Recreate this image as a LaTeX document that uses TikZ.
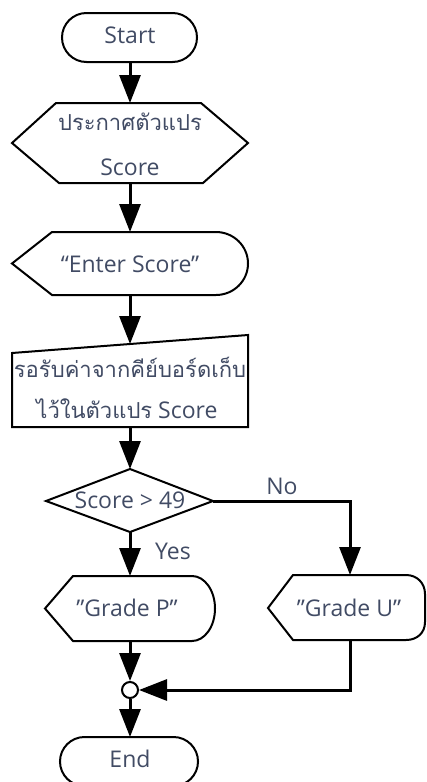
\documentclass[tikz,border=0pt]{standalone}
\usepackage{fontspec}
\setmainfont{Open Sans}
\newfontfamily\thaifont[Script=Thai]{Loma}
\usetikzlibrary{arrows.meta}
\definecolor{txt}{RGB}{65,75,100}
\begin{document}
\begin{tikzpicture}[x=1pt,y=-1pt,
  shp/.style={draw=black,line width=2pt,line join=miter},
  conn/.style={draw=black,line width=3pt},
  arr/.style={conn,-{Triangle[width=21pt,length=28pt]}},
  lbl/.style={anchor=base,inner sep=0pt,text=txt,font=\fontsize{23}{26}\selectfont},
  thl/.style={lbl,font=\thaifont\fontsize{22}{26}\selectfont}]
\useasboundingbox (0,0) rectangle (427,782);
% shapes
\draw[shp,rounded corners=24.5pt] (62,13) rectangle (197,62);
\draw[shp] (12,143) -- (56,103) -- (201,103) -- (248,143) -- (203,183) -- (59,183) -- cycle;
\draw[shp] (12,263.5) -- (52,232) -- (216,232) .. controls (233.5,232) and (248,246) .. (248,263.5) .. controls (248,281) and (233.5,295) .. (216,295) -- (52,295) -- cycle;
\draw[shp] (12,353) -- (248,335) -- (248,427) -- (12,427) -- cycle;
\draw[shp] (130,469) -- (213,501) -- (130,532) -- (46,501) -- cycle;
\draw[shp] (45,608.5) -- (73,576) -- (192,576) .. controls (204.7,576) and (215,590.5) .. (215,608.5) .. controls (215,626.5) and (204.7,641) .. (192,641) -- (73,641) -- cycle;
\draw[shp] (268,608) -- (293,575) -- (406,575) .. controls (417,575) and (425,583) .. (425,594) -- (425,622) .. controls (425,633) and (417,640) .. (406,640) -- (293,640) -- cycle;
\node[draw,circle,line width=2pt,minimum size=16pt,inner sep=0pt] (jn) at (130,690) {};
\draw[shp,rounded corners=24.5pt] (60,737) rectangle (198,786);
% connection points
\coordinate (s-b) at (130,62);
\coordinate (h-t) at (130,103);
\coordinate (h-b) at (130,183);
\coordinate (d1-t) at (130,232);
\coordinate (d1-b) at (130,295);
\coordinate (m-t) at (130,344);
\coordinate (m-b) at (130,427);
\coordinate (dm-t) at (130,469);
\coordinate (dm-b) at (130,532);
\coordinate (dm-r) at (213,501);
\coordinate (gp-t) at (130,576);
\coordinate (gp-b) at (130,641);
\coordinate (gu-t) at (350,575);
\coordinate (gu-b) at (350,640);
\coordinate (e-t) at (130,737);
% connectors
\draw[arr] (s-b) -- (h-t);
\draw[arr] (h-b) -- (d1-t);
\draw[arr] (d1-b) -- (m-t);
\draw[arr] (m-b) -- (dm-t);
\draw[arr] (dm-b) -- (gp-t);
\draw[arr] (dm-r) -| (gu-t);
\draw[arr] (gp-b) -- (jn.north);
\draw[arr] (gu-b) |- (jn.east);
\draw[arr] (jn.south) -- (e-t);
% texts
\node[lbl] (tStart) at (130,43) {Start};
\node[thl] (tH1) at (130,130) {ประกาศตัวแปร};
\node[lbl] (tH2) at (130,175) {Score};
\node[lbl] (tD1) at (130,272) {“Enter Score”};
\node[thl] (tM1) at (130,377) {รอรับค่าจากคีย์บอร์ดเก็บ};
\node[lbl] (tM2) at (127,418) {{\thaifont\fontsize{22}{26}\selectfont ไว้ในตัวแปร} Score};
\node[lbl] (tDm) at (130,508) {Score > 49};
\node[lbl] (tNo) at (282,494) {No};
\node[lbl] (tYes) at (173,559) {Yes};
\node[lbl] (tGP) at (127,616) {\char34 Grade P”};
\node[lbl] (tGU) at (349,616) {\char34 Grade U\char34};
\node[lbl] (tEnd) at (130,767) {End};
\end{tikzpicture}
\end{document}
